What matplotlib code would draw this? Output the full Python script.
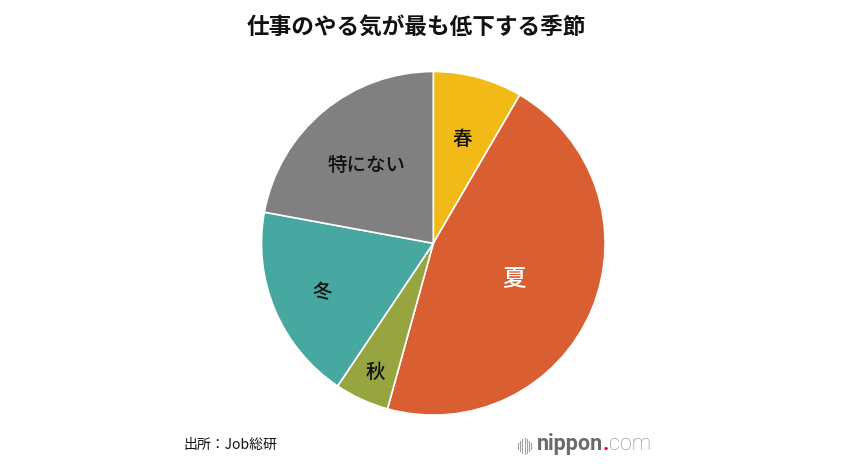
import numpy as np
import matplotlib
matplotlib.use("Agg")
import matplotlib.pyplot as plt

plt.rcParams["font.family"] = ["Noto Sans CJK JP", "DejaVu Sans"]

# data (share of respondents, %)
seasons = ["春", "夏", "秋", "冬", "特にない"]
shares = [8.4, 45.9, 5.1, 18.5, 22.1]
colors = ["#F1BA16", "#D95E31", "#97A541", "#47A8A1", "#808080"]
label_colors = ["#111111", "#FFFFFF", "#111111", "#111111", "#111111"]
label_sizes = [14, 17, 14, 14, 14]
label_dist = [0.64, 0.51, 0.81, 0.70, 0.61]

title = "仕事のやる気が最も低下する季節"
source = "出所：Job総研"

W, H = 856, 471
fig = plt.figure(figsize=(W / 100, H / 100), dpi=100)

cx, cy, r = 433.3, 243.3, 171.8
ax = fig.add_axes([(cx - r) / W, 1 - (cy + r) / H, 2 * r / W, 2 * r / H])
wedges, _ = ax.pie(
    shares,
    colors=colors,
    startangle=90,
    counterclock=False,
    radius=1.0,
    wedgeprops=dict(edgecolor="white", linewidth=1.2),
)
ax.set_xlim(-1, 1)
ax.set_ylim(-1, 1)
ax.set_aspect("equal")
ax.axis("off")

for w, name, c, s, d in zip(wedges, seasons, label_colors, label_sizes, label_dist):
    mid = np.deg2rad((w.theta1 + w.theta2) / 2)
    ax.text(d * np.cos(mid), d * np.sin(mid) - 0.015, name, ha="center", va="center",
            fontsize=s, color=c, fontweight="medium")

fig.text(416 / W, 1 - 27 / H, title, ha="center", va="center",
         fontsize=16.3, fontweight="bold", color="#111111")
fig.text(183 / W, 1 - 445 / H, source, ha="left", va="center",
         fontsize=10, color="#111111")

# nippon.com logo
lx, ly = 518, 446
for i, h in enumerate([6, 10, 14, 16, 14, 10, 6]):
    x = (lx + i * 2.2) / W
    fig.add_artist(plt.Line2D([x, x], [1 - (ly - h / 2) / H, 1 - (ly + h / 2) / H],
                              color="#a0a0a0", linewidth=0.8))
logo_font = ["Roboto", "DejaVu Sans"]
t1 = fig.text(537 / W, 1 - 444 / H, "nippon", ha="left", va="center",
              fontsize=15.5, fontweight="bold", color="#6a6a6a", family=logo_font)
fig.canvas.draw()
bb = t1.get_window_extent()
t2 = fig.text(bb.x1 / W, 1 - 444 / H, ".", ha="left", va="center",
              fontsize=15.5, fontweight="bold", color="#E3001B", family=logo_font)
bb2 = t2.get_window_extent()
fig.text(bb2.x1 / W, 1 - 444 / H, "com", ha="left", va="center",
         fontsize=15.5, fontweight="light", color="#8a8a8a", family=logo_font)

fig.savefig("out.png", dpi=100, facecolor="white")
